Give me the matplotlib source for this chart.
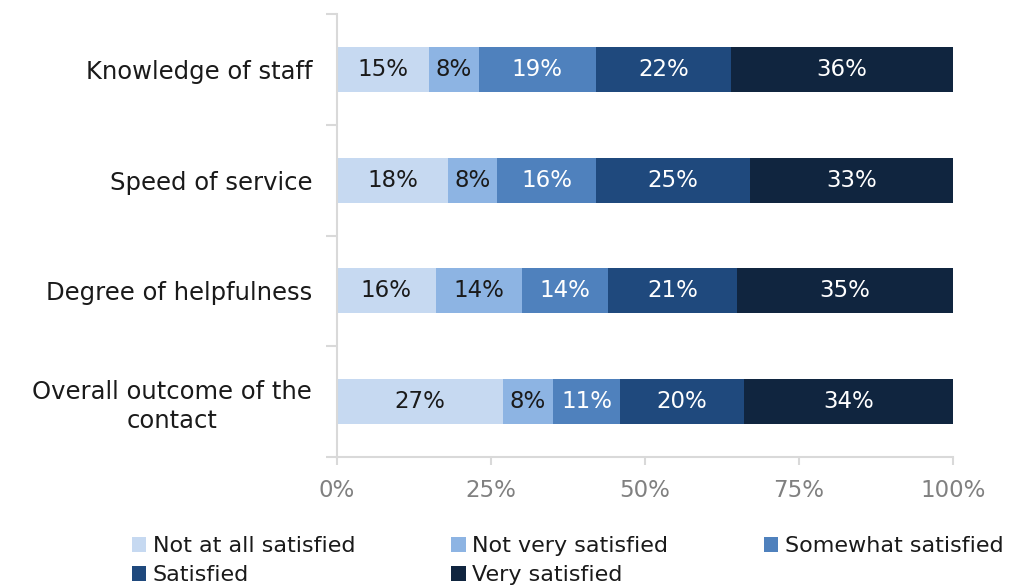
import numpy as np
import matplotlib.pyplot as plt
from matplotlib.patches import Patch

plt.rcParams['font.family'] = ['DejaVu Sans']

categories = ['Overall outcome of the\ncontact', 'Degree of helpfulness',
              'Speed of service', 'Knowledge of staff']
levels = ['Not at all satisfied', 'Not very satisfied', 'Somewhat satisfied',
          'Satisfied', 'Very satisfied']
# percentages per level, rows follow categories (bottom to top)
not_at_all = [27, 16, 18, 15]
not_very = [8, 14, 8, 8]
somewhat = [11, 14, 16, 19]
satisfied = [20, 21, 25, 22]
very = [34, 35, 33, 36]

colors = ['#C6D9F1', '#8DB4E3', '#4F81BD', '#1F497D', '#10253F']
text_colors = ['#1a1a1a', '#1a1a1a', 'white', 'white', 'white']
xticks = [0, 25, 50, 75, 100]

fig = plt.figure(figsize=(10.11, 5.86), dpi=100)
ax = fig.add_axes([337/1011, 1-457/586, (953-337)/1011, (457-14)/586])

y = np.arange(len(categories))
left = np.zeros(len(categories))
for vals, c, tc in zip([not_at_all, not_very, somewhat, satisfied, very], colors, text_colors):
    vals = np.array(vals, dtype=float)
    ax.barh(y, vals, left=left, height=0.405, color=c, edgecolor='none')
    for yi, l, v in zip(y, left, vals):
        ax.text(l + v / 2, yi, f'{v:.0f}%', ha='center', va='center',
                color=tc, fontsize=16.5)
    left += vals

ax.set_xlim(0, 100)
ax.set_ylim(-0.5, len(categories) - 0.5)
ax.set_xticks(xticks)
ax.set_xticklabels([f'{t}%' for t in xticks])
ax.set_yticks(y)
ax.set_yticklabels(categories, fontsize=17.5, color='#1a1a1a',
                   multialignment='center', linespacing=1.25)
ax.set_yticks(np.arange(-0.5, len(categories)), minor=True)

for s in ['top', 'right']:
    ax.spines[s].set_visible(False)
for s in ['left', 'bottom']:
    ax.spines[s].set_color('#D9D9D9')
    ax.spines[s].set_linewidth(1.5)

ax.tick_params(axis='y', which='major', length=0, pad=18)
ax.tick_params(axis='y', which='minor', length=8, width=1.5, color='#D9D9D9')
ax.tick_params(axis='x', length=6, width=1.5, color='#D9D9D9',
               labelcolor='#808080', labelsize=16.5, pad=10)

# legend is filled column by column, so reorder to read row by row
order = [0, 3, 1, 4, 2]
handles = [Patch(facecolor=colors[i], edgecolor='none') for i in order]
labels = [levels[i] for i in order]
fig.legend(handles, labels, loc='lower left', bbox_to_anchor=(123/1011, -0.014),
           ncol=3, frameon=False, fontsize=16, handlelength=0.65, handleheight=0.65,
           handletextpad=0.3, columnspacing=4.3, labelspacing=0.4,
           borderaxespad=0, labelcolor='#1a1a1a')

fig.savefig('out.png', dpi=100)
